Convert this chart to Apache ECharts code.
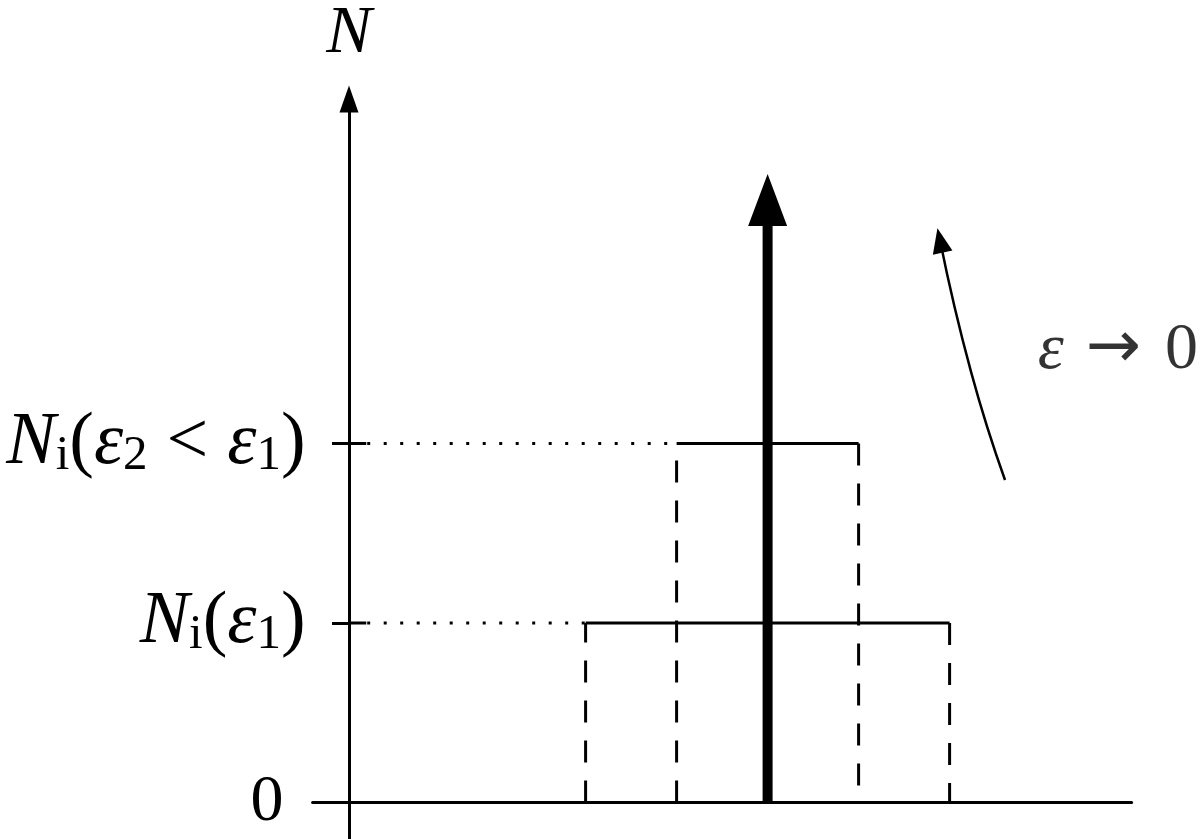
<!DOCTYPE html>
<html><head><meta charset="utf-8">
<script src="https://cdn.jsdelivr.net/npm/echarts@6/dist/echarts.min.js"></script>
<style>html,body{margin:0;padding:0;background:#fff}#c{width:1200px;height:839px}</style>
</head><body><div id="c"></div>
<script>
// ---- data (schematic units) ----
const levels = [0, 1, 2];
const tickLabels = [
  '{z|0}',
  '{n|N}{s|i}{r|(}{e|ε}{s|1}{r|)}',
  '{n|N}{s|i}{r|(}{e|ε}{s|2}{lt|<}{e|ε}{s|1}{r|)}'
];
const axisName = 'N';
const xRange = [-0.4, 8.6];
const yRange = [-0.2, 3.92];
const wideRectX = [2.6, 6.6];
const wideRectY = 1;
const narrowRectX = [3.6, 5.6];
const narrowRectY = 2;
const spikeX = 4.6;
const spikeTop = 3.357;
const curveX = [7.209, 6.835, 6.495];
const curveY = [1.797, 2.401, 3.132];
const annotationText = '{e2|ε}{a|→}{z2|0}';
const annotationPos = [8.45, 2.52];

// ---- styles ----
const FONT = '"Liberation Serif", "Times New Roman", serif';
const FS = 74;   // tick label size
const SUB = 49;
const FS2 = 66;  // smaller texts
const base = {fontFamily: FONT, color: '#000', verticalAlign: 'bottom'};
const rich = {
  n: Object.assign({}, base, {fontStyle: 'italic', fontSize: FS, lineHeight: FS}),
  e: Object.assign({}, base, {fontStyle: 'italic', fontSize: FS, lineHeight: FS}),
  r: Object.assign({}, base, {fontSize: FS, lineHeight: FS}),
  lt: Object.assign({}, base, {fontSize: FS, lineHeight: FS, padding: [0, 19, 0, 19]}),
  s: Object.assign({}, base, {fontSize: SUB, lineHeight: SUB}),
  z: Object.assign({}, base, {fontSize: FS2, lineHeight: FS2, padding: [0, 22, 0, 0]}),
  e2: Object.assign({}, base, {fontStyle: 'italic', fontSize: FS2, lineHeight: FS2}),
  z2: Object.assign({}, base, {fontSize: FS2, lineHeight: FS2}),
  a: Object.assign({}, base, {fontFamily: '"DejaVu Sans", sans-serif', fontSize: FS2, lineHeight: FS2, padding: [0, 24, 0, 22]})
};
const LW = 3;
function seg(data, style, extra) {
  return Object.assign({
    type: 'line', data: data, symbol: 'none', silent: true,
    lineStyle: Object.assign({color: '#000', width: LW}, style)
  }, extra || {});
}
const dash = {type: [22, 18], cap: 'butt'};
const dots = {type: [3, 13.5], cap: 'butt'};
const tickIn = 0.19;
const tickEnd = 0.2;

const series = [];
levels.slice(1).forEach(v => series.push(seg([[0, v], [tickIn, v]], {})));
series.push(seg([[tickEnd, wideRectY], [wideRectX[0], wideRectY]], dots));
series.push(seg([[tickEnd, narrowRectY], [narrowRectX[0], narrowRectY]], dots));
[[wideRectX, wideRectY], [narrowRectX, narrowRectY]].forEach(([xs, h]) => {
  series.push(seg([[xs[0], 0], [xs[0], h]], dash));
  series.push(seg([[xs[0], h], [xs[1], h]], {}));
  series.push(seg([[xs[1], h], [xs[1], 0]], dash));
});
series.push({
  type: 'line', silent: true, showSymbol: true,
  data: [{value: [spikeX, 0], symbol: 'none'},
         {value: [spikeX, spikeTop], symbol: 'triangle', symbolSize: [39, 52]}],
  lineStyle: {color: '#000', width: 10},
  itemStyle: {color: '#000'}
});
series.push({
  type: 'line', silent: true, showSymbol: true, smooth: 0.5,
  data: curveX.map((x, i) => i === curveX.length - 1
    ? {value: [x, curveY[i]], symbol: 'triangle', symbolSize: [20, 25], symbolRotate: 12}
    : {value: [x, curveY[i]], symbol: 'none'}),
  lineStyle: {color: '#000', width: 2.5},
  itemStyle: {color: '#000'}
});
series.push({
  type: 'scatter', silent: true, symbolSize: 0.1,
  data: [annotationPos],
  label: {show: true, position: [0, 0], align: 'center', verticalAlign: 'middle',
          formatter: annotationText, rich: rich}
});

const chart = echarts.init(document.getElementById('c'), null, {renderer: 'canvas'});
const unitX = 91, y0 = 802, unitY = 182;
const gridLeft = 349 + xRange[0] * unitX;
const gridRight = 1200 - (gridLeft + (xRange[1] - xRange[0]) * unitX);
const gridTop = y0 - yRange[1] * unitY;
const gridBottom = 839 - (y0 - yRange[0] * unitY);
chart.setOption({
  animation: false,
  backgroundColor: '#fff',
  grid: {left: gridLeft, right: gridRight, top: gridTop, bottom: gridBottom, containLabel: false},
  xAxis: {
    type: 'value', min: xRange[0], max: xRange[1],
    axisLine: {show: true, onZero: true, lineStyle: {color: '#000', width: LW}},
    axisTick: {show: false}, axisLabel: {show: false}, splitLine: {show: false}
  },
  yAxis: {
    type: 'value', min: yRange[0], max: yRange[1],
    name: axisName, nameLocation: 'end', nameGap: 31,
    nameTextStyle: {fontFamily: FONT, fontStyle: 'italic', fontSize: 68, color: '#000', align: 'center'},
    axisLine: {show: true, onZero: true, symbol: ['none', 'triangle'], symbolSize: [19, 27],
               lineStyle: {color: '#000', width: LW}},
    axisTick: {show: true, length: 17, customValues: levels, lineStyle: {color: '#000', width: LW}},
    axisLabel: {show: true, margin: 7, customValues: levels,
      formatter: v => tickLabels[levels.indexOf(v)] || '', rich: rich},
    splitLine: {show: false}
  },
  series: series
});
</script></body></html>
